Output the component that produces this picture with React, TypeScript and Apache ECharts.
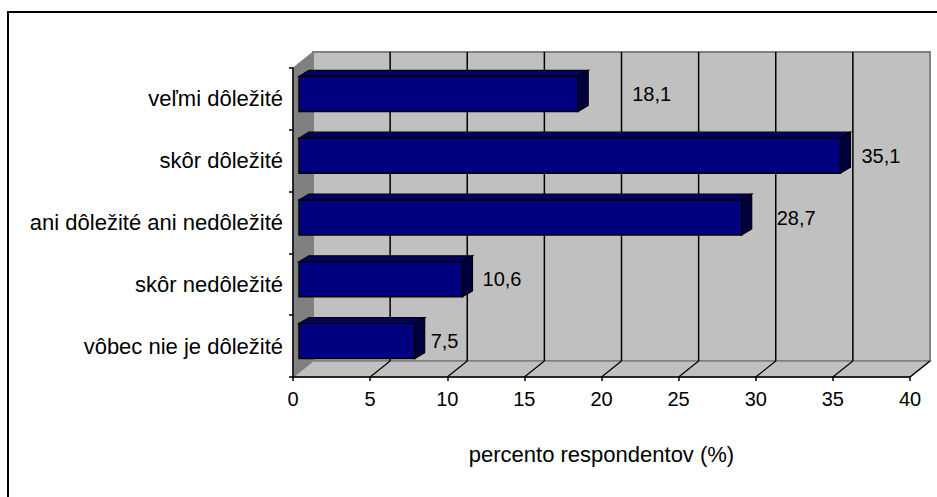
import React, { useEffect, useRef } from "react";
import * as echarts from "echarts";

const categories = [
  "veľmi dôležité",
  "skôr dôležité",
  "ani dôležité ani nedôležité",
  "skôr nedôležité",
  "vôbec nie je dôležité",
];
const values = [18.1, 35.1, 28.7, 10.6, 7.5];
const xTicks = [0, 5, 10, 15, 20, 25, 30, 35, 40];
const axisTitle = "percento respondentov (%)";

// layout-only constants (not data)
const LABEL_GAP = [44, 11, 25, 10, 6];
const WALL_DX = 20;
const WALL_DY = -16;
const BAR_FX = 6;
const BAR_FY = -5;
const BAR_DX = 10;
const BAR_DY = -6;
const FONT = "Liberation Sans, Arial, sans-serif";
const FS_NUM = 20;
const FS_TXT = 22;

export default function App() {
  const ref = useRef<HTMLDivElement>(null);
  useEffect(() => {
    if (!ref.current) return;
    const chart = echarts.init(ref.current, undefined, { renderer: "svg" });

    const wallItem = (params: any, api: any) => {
      const cs = params.coordSys;
      const gx = cs.x, gy = cs.y, gw = cs.width, gh = cs.height;
      const children: any[] = [];
      children.push({
        type: "rect",
        shape: { x: gx + WALL_DX, y: gy + WALL_DY, width: gw, height: gh },
        style: { fill: "#C0C0C0", stroke: "#808080", lineWidth: 2 },
      });
      children.push({
        type: "polygon",
        shape: {
          points: [
            [gx, gy],
            [gx + WALL_DX, gy + WALL_DY],
            [gx + WALL_DX, gy + gh + WALL_DY],
            [gx, gy + gh],
          ],
        },
        style: { fill: "#808080", stroke: "#808080", lineWidth: 1 },
      });
      children.push({
        type: "polygon",
        shape: {
          points: [
            [gx, gy + gh],
            [gx + WALL_DX, gy + gh + WALL_DY],
            [gx + gw + WALL_DX, gy + gh + WALL_DY],
            [gx + gw, gy + gh],
          ],
        },
        style: { fill: "#C0C0C0", stroke: "#808080", lineWidth: 1.5 },
      });
      xTicks.forEach((t) => {
        const px = api.coord([t, 0])[0];
        if (t > 0 && t < 40) {
          children.push({
            type: "line",
            shape: {
              x1: px + WALL_DX,
              y1: gy + WALL_DY,
              x2: px + WALL_DX,
              y2: gy + gh + WALL_DY,
            },
            style: { stroke: "#000", lineWidth: 1.5 },
          });
        }
        if (t > 0) {
          children.push({
            type: "line",
            shape: {
              x1: px,
              y1: gy + gh,
              x2: px + WALL_DX,
              y2: gy + gh + WALL_DY,
            },
            style: { stroke: "#000", lineWidth: 1.2 },
          });
        }
      });
      return { type: "group", children };
    };

    const barItem = (params: any, api: any) => {
      const v = api.value(0);
      const idx = api.value(1);
      const p0 = api.coord([0, idx]);
      const p1 = api.coord([v, idx]);
      const band = api.size([0, 1])[1];
      const h = band * 0.566;
      const x0 = p0[0] + BAR_FX;
      const x1 = p1[0] + BAR_FX;
      const cy = p0[1] + BAR_FY;
      const yT = cy - h / 2;
      const yB = cy + h / 2;
      const i = params.dataIndex;
      return {
        type: "group",
        children: [
          {
            type: "polygon",
            shape: {
              points: [
                [x0, yT],
                [x0 + BAR_DX, yT + BAR_DY],
                [x1 + BAR_DX, yT + BAR_DY],
                [x1, yT],
              ],
            },
            style: { fill: "#000066", stroke: "#000", lineWidth: 1.2 },
          },
          {
            type: "polygon",
            shape: {
              points: [
                [x1, yT],
                [x1 + BAR_DX, yT + BAR_DY],
                [x1 + BAR_DX, yB + BAR_DY],
                [x1, yB],
              ],
            },
            style: { fill: "#000040", stroke: "#000", lineWidth: 1.2 },
          },
          {
            type: "rect",
            shape: { x: x0, y: yT, width: x1 - x0, height: h },
            style: { fill: "#000080", stroke: "#000", lineWidth: 1.5 },
          },
          {
            type: "text",
            x: x1 + BAR_DX + LABEL_GAP[i],
            y: cy,
            style: {
              text: String(v).replace(".", ","),
              fill: "#000",
              font: `${FS_NUM}px ${FONT}`,
              align: "left",
              verticalAlign: "middle",
            },
          },
        ],
      };
    };

    chart.setOption({
      animation: false,
      textStyle: { fontFamily: FONT },
      grid: { left: 293, top: 68, width: 617, height: 309, containLabel: false },
      xAxis: {
        type: "value",
        min: 0,
        max: 40,
        interval: 5,
        z: 10,
        axisLine: { show: true, lineStyle: { color: "#000", width: 1.5 } },
        axisTick: { show: true, length: 4, lineStyle: { color: "#000", width: 1.5 } },
        axisLabel: { color: "#000", fontSize: FS_NUM, fontFamily: FONT, margin: 12 },
        splitLine: { show: false },
        name: axisTitle,
        nameLocation: "middle",
        nameGap: 66,
        nameTextStyle: { color: "#000", fontSize: FS_TXT, fontFamily: FONT },
      },
      yAxis: {
        type: "category",
        data: categories,
        inverse: true,
        z: 10,
        axisLine: { show: true, lineStyle: { color: "#000", width: 1.5 } },
        axisTick: { show: true, length: 4, lineStyle: { color: "#000", width: 1.5 } },
        axisLabel: { color: "#000", fontSize: FS_TXT, fontFamily: FONT, margin: 10 },
        splitLine: { show: false },
      },
      series: [
        {
          type: "custom",
          z: 1,
          renderItem: wallItem,
          data: [[0, 0]],
          encode: { x: 0, y: 1 },
          silent: true,
        },
        {
          type: "custom",
          z: 2,
          renderItem: barItem,
          data: values.map((v, i) => [v, i]),
          encode: { x: 0, y: 1 },
        },
      ],
      graphic: [
        {
          type: "rect",
          shape: { x: 8, y: 12, width: 1000, height: 1000 },
          style: { fill: "none", stroke: "#000", lineWidth: 2 },
          z: 100,
          silent: true,
        },
      ],
    });
    return () => chart.dispose();
  }, []);
  return (
    <div
      ref={ref}
      style={{ position: "fixed", left: 0, top: 0, width: 937, height: 497, background: "#fff" }}
    />
  );
}
